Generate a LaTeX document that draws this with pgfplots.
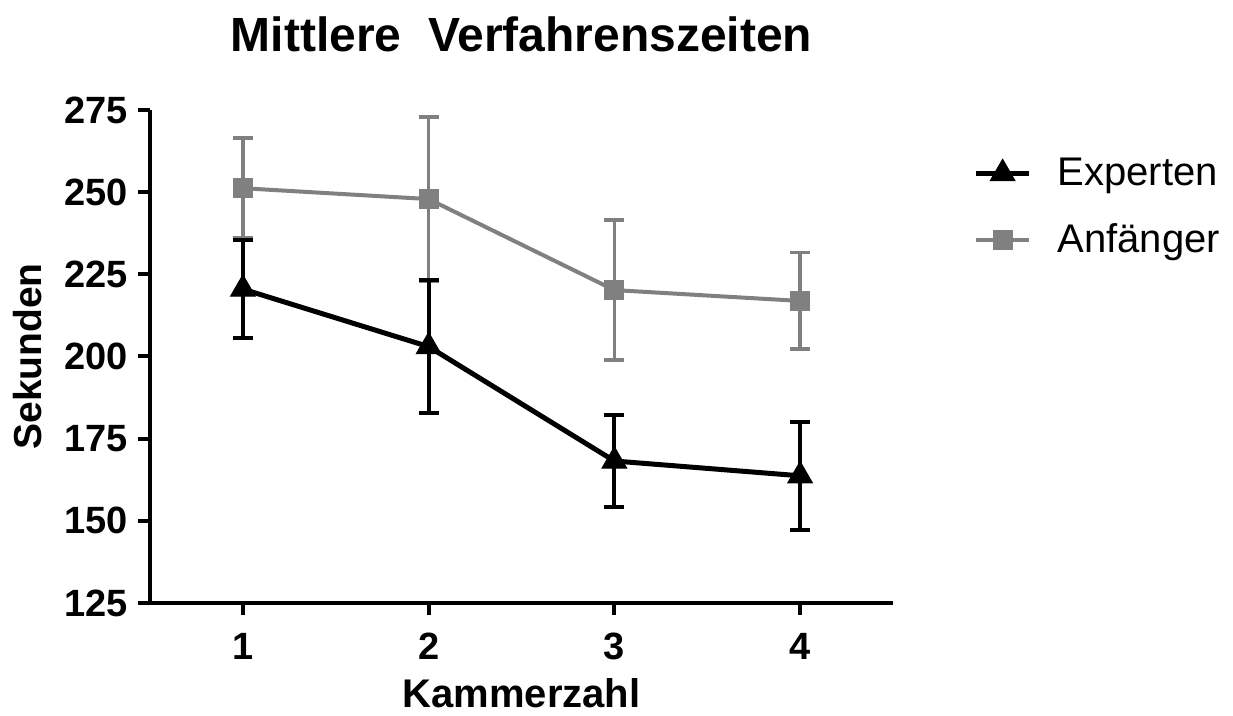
\documentclass[border=0pt]{standalone}
\usepackage{fontspec}
\setmainfont{Liberation Sans}
\usepackage{pgfplots}
\pgfplotsset{compat=1.18}
\definecolor{greyline}{HTML}{808080}
\begin{document}
\begin{tikzpicture}
\useasboundingbox (-75pt,-56.5pt) rectangle (541.5pt,301.5pt);
\begin{axis}[
  at={(0pt,0pt)}, anchor=south west,
  scale only axis, width=371.5pt, height=246.5pt,
  xmin=0.5, xmax=4.5, ymin=125, ymax=275,
  xtick={1,2,3,4}, ytick={125,150,175,200,225,250,275},
  axis lines=left,
  axis line style={line width=2pt, -},
  every tick/.style={line width=2pt, black},
  tick align=outside, major tick length=6pt,
  x axis line style={shorten <=-1pt},
  /pgf/number format/assume math mode=true,
  ticklabel style={font=\bfseries\fontsize{19}{20}\selectfont},
  yticklabel style={inner sep=0pt, xshift=-5pt},
  xticklabel style={inner sep=0pt, yshift=-9pt},
  title={Mittlere\ \ Verfahrenszeiten},
  title style={at={(axis description cs:0.5,1)}, anchor=base, yshift=23pt, font=\bfseries\fontsize{24}{26}\selectfont},
  xlabel={Kammerzahl},
  every axis x label/.style={at={(axis description cs:0.5,-0.2110)}, anchor=base, font=\bfseries\fontsize{20}{21}\selectfont},
  ylabel={Sekunden},
  every axis y label/.style={at={(axis description cs:-0.1460,0.5)}, rotate=90, anchor=base, font=\bfseries\fontsize{19.5}{20}\selectfont},
  legend style={at={(axis description cs:1.108,0.911)}, anchor=north west, draw=none, fill=none,
    font=\fontsize{20}{22}\selectfont, row sep=13.5pt, inner sep=0pt,
    /tikz/every odd column/.append style={column sep=11pt}},
  legend cell align=left,
  reverse legend,
  legend image code/.code={\draw[#1, mark=none] (0pt,0pt) -- (26.5pt,0pt); \draw[#1, mark repeat=1] plot coordinates {(13.25pt,0pt)};},
  clip=false,
]
\addplot[greyline, line width=2pt, mark=square*, mark size=4.7pt, mark options={line width=0.6pt, fill=greyline},
  error bars/.cd, y dir=both, y explicit,
  error bar style={line width=1.8pt, greyline},
  error mark options={rotate=90, mark size=5pt, line width=1.8pt, greyline}]
coordinates {
(1,251.2) +- (0,15.2)
(2,247.9) +- (0,25.0)
(3,220.2) +- (0,21.3)
(4,216.9) +- (0,14.7)
};
\addlegendentry{Anfänger}
\addplot[black, line width=2.5pt, mark=triangle*, mark size=7pt, mark options={line width=0.6pt, fill=black},
  error bars/.cd, y dir=both, y explicit,
  error bar style={line width=2pt, black},
  error mark options={rotate=90, mark size=5pt, line width=2pt, black}]
coordinates {
(1,220.5) +- (0,15.0)
(2,203.0) +- (0,20.3)
(3,168.2) +- (0,14.0)
(4,163.7) +- (0,16.5)
};
\addlegendentry{Experten}
\end{axis}
\end{tikzpicture}
\end{document}
